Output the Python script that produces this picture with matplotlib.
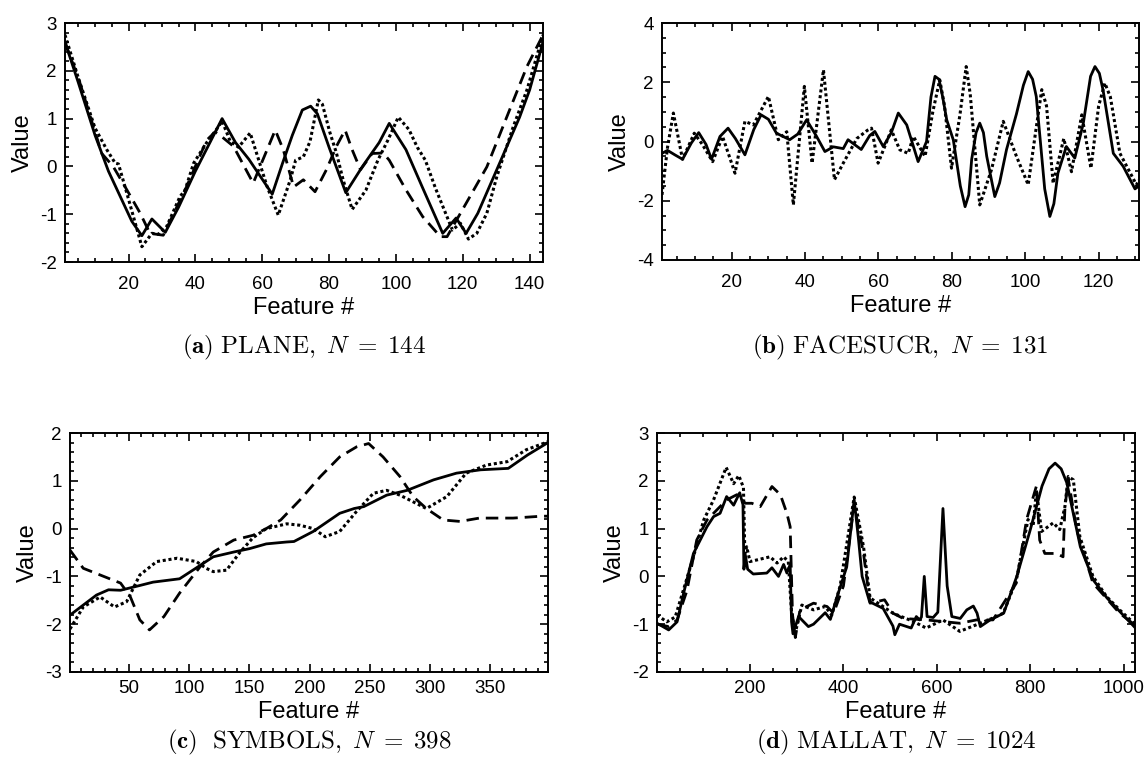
import matplotlib
matplotlib.use("Agg")
import matplotlib.pyplot as plt
from matplotlib.ticker import MultipleLocator

plt.rcParams['font.family'] = ['Liberation Sans', 'DejaVu Sans']
plt.rcParams['mathtext.fontset'] = 'cm'
plt.rcParams['axes.unicode_minus'] = False

# ------------------
# Data
# ------------------
# (a) PLANE
a_solid_x = [1, 5, 10, 14, 18, 21, 24, 27, 31, 35, 40, 44, 48, 52, 56, 63, 66, 69, 72, 74.5, 76.5, 80, 85, 90, 95, 98, 103, 108, 114, 118, 121, 124.5, 130.6, 137, 140, 144]
a_solid_y = [2.6, 1.75, 0.65, -0.1, -0.7, -1.15, -1.45, -1.1, -1.38, -0.85, -0.1, 0.45, 1.0, 0.5, 0.15, -0.58, 0.05, 0.65, 1.18, 1.26, 1.1, 0.4, -0.55, 0.0, 0.5, 0.9, 0.35, -0.45, -1.4, -1.08, -1.4, -0.98, 0.0, 1.03, 1.6, 2.6]

a_dot_x = [1, 5, 10, 13.5, 16, 17, 19.5, 24, 27, 29, 31.4, 35.4, 36.9, 39.5, 43.4, 46.9, 48, 50.4, 52.9, 56.4, 61.4, 64.8, 68.4, 70, 72.3, 74.3, 76.8, 78, 80.2, 82.2, 84.2, 86.9, 91, 94.6, 97.6, 100.7, 103.9, 106.4, 108.8, 111.8, 114.8, 116.9, 119.3, 121.7, 124.2, 127.2, 130.2, 135.1, 139.2, 144]
a_dot_y = [2.75, 1.85, 0.8, 0.35, 0.07, 0.05, -0.56, -1.68, -1.4, -1.42, -1.26, -0.63, -0.5, 0.07, 0.5, 0.83, 0.95, 0.53, 0.4, 0.7, -0.41, -1.02, -0.28, 0.13, 0.2, 0.52, 1.39, 1.3, 0.72, 0.28, -0.28, -0.9, -0.5, 0.13, 0.55, 1.03, 0.77, 0.4, 0.13, -0.45, -0.97, -1.33, -1.19, -1.52, -1.4, -0.98, -0.21, 0.83, 1.6, 2.75]

a_dash_x = [1, 5.5, 9.5, 12, 15.4, 19.5, 23.5, 26.4, 30.4, 37.4, 43.4, 45.9, 47.4, 51.4, 57.3, 63.9, 66.3, 69.4, 72.3, 75.8, 79.2, 82.2, 84.8, 86.9, 89.4, 92.9, 96.2, 98, 103, 108, 113.3, 115.3, 119.3, 123.3, 127.2, 131.2, 135.2, 139.2, 144]
a_dash_y = [2.6, 1.74, 0.83, 0.27, 0.0, -0.49, -0.98, -1.4, -1.44, -0.42, 0.55, 0.72, 0.65, 0.42, -0.35, 0.76, 0.35, -0.43, -0.28, -0.53, -0.07, 0.42, 0.76, 0.35, -0.07, 0.27, 0.28, 0.13, -0.49, -1.05, -1.47, -1.47, -0.98, -0.49, -0.01, 0.69, 1.39, 2.09, 2.75]

# (b) FACESUCR
b_solid_x = [1, 2.5, 4.5, 6.6, 9, 11, 13, 14.5, 16.8, 19, 21, 23.6, 26, 28, 30, 32.2, 35.8, 38, 40.4, 43, 45.4, 47.7, 50.4, 51.7, 55.3, 57.6, 59, 61.3, 63.5, 65.4, 67.7, 70.8, 73.1, 74.3, 75.4, 76.5, 77.5, 78.6, 80.4, 82.3, 83.6, 84.6, 85.4, 86.6, 87.6, 88.6, 89.5, 91.7, 93, 94.9, 97.6, 99.5, 100.8, 102, 103, 105.3, 106.7, 107.8, 108.9, 111.2, 113.5, 115.8, 117.8, 119, 120.2, 121.2, 124, 126.7, 129.9, 131]
b_solid_y = [-0.4, -0.3, -0.45, -0.6, -0.05, 0.3, -0.1, -0.6, 0.17, 0.45, 0.1, -0.45, 0.4, 0.9, 0.75, 0.28, 0.06, 0.25, 0.73, 0.2, -0.34, -0.18, -0.24, 0.06, -0.27, 0.2, 0.34, -0.17, 0.3, 0.96, 0.56, -0.68, 0.0, 1.5, 2.2, 2.1, 1.5, 0.73, 0.05, -1.5, -2.2, -1.8, -0.6, 0.3, 0.62, 0.3, -0.5, -1.86, -1.4, -0.27, 0.93, 1.9, 2.36, 2.1, 1.52, -1.6, -2.53, -2.1, -1.07, -0.17, -0.56, 0.6, 2.2, 2.53, 2.3, 1.74, -0.4, -0.84, -1.6, -1.5]

b_dot_x = [1, 2.5, 4.1, 6.6, 9.8, 12, 14.8, 17.5, 20.9, 23.6, 25.9, 30, 32.7, 35, 36.8, 39.8, 41.9, 45, 48, 50.4, 54.1, 57, 58.1, 59.9, 63.5, 65.8, 68.1, 69.5, 72.7, 74.8, 76.7, 78, 79.9, 82.2, 83.9, 85, 87.6, 90.8, 94, 97.6, 100.8, 102.8, 104.5, 105.8, 107.6, 110.5, 112.6, 115.4, 117.9, 120, 121.7, 123.2, 125.8, 130.3, 131]
b_dot_y = [-1.8, -0.2, 0.96, -0.6, 0.28, -0.1, -0.68, 0.17, -1.07, 0.68, 0.56, 1.52, 0.06, 0.33, -2.14, 1.86, -0.73, 2.42, -1.29, -0.73, 0.1, 0.38, 0.45, -0.73, 0.39, -0.28, -0.4, 0.17, -0.5, 1.0, 2.08, 1.2, -0.9, 0.9, 2.53, 1.6, -2.14, -0.95, 0.68, -0.5, -1.46, 0.3, 1.75, 1.2, -1.41, 0.1, -1.02, 0.9, -0.9, 1.2, 1.97, 1.5, -0.4, -1.46, -1.3]

# (c) SYMBOLS
c_solid_x = [1, 23, 33, 43, 59, 70, 92, 103, 120, 137, 150, 164, 181, 187, 203, 225, 237, 245, 264, 281, 303, 322, 342, 365, 381, 398]
c_solid_y = [-1.81, -1.39, -1.28, -1.29, -1.19, -1.12, -1.05, -0.87, -0.59, -0.49, -0.42, -0.32, -0.28, -0.27, -0.06, 0.32, 0.42, 0.46, 0.7, 0.8, 1.02, 1.16, 1.23, 1.26, 1.54, 1.8]

c_dot_x = [1, 12, 26, 38, 48, 59, 73, 90, 106, 114, 120, 131, 142, 153, 164, 181, 192, 203, 213, 225, 239, 253, 264, 275, 286, 297, 314, 330, 347, 364, 380, 394, 398]
c_dot_y = [-2.1, -1.64, -1.43, -1.64, -1.53, -0.97, -0.69, -0.62, -0.69, -0.83, -0.9, -0.87, -0.5, -0.19, 0.0, 0.1, 0.07, 0.0, -0.17, -0.06, 0.36, 0.74, 0.8, 0.7, 0.56, 0.42, 0.67, 1.16, 1.33, 1.4, 1.65, 1.78, 1.82]

c_dash_x = [1, 12, 29, 43, 51, 59, 67, 79, 92, 109, 120, 137, 153, 164, 176, 192, 209, 225, 239, 249, 261, 275, 286, 297, 311, 325, 341, 369, 393, 398]
c_dash_y = [-0.45, -0.83, -1.0, -1.14, -1.42, -1.91, -2.12, -1.84, -1.35, -0.8, -0.49, -0.24, -0.14, 0.0, 0.18, 0.6, 1.09, 1.5, 1.71, 1.78, 1.5, 1.09, 0.67, 0.42, 0.18, 0.15, 0.22, 0.22, 0.26, 0.26]

# (d) MALLAT
d_solid_x = [1, 26, 44, 58, 79, 108, 122, 136, 150, 165, 178, 185, 187, 190, 195, 207, 236, 247, 261, 272, 279, 286, 289, 292, 304, 325, 336, 361, 372, 386, 407, 423, 432, 440, 456, 485, 506, 510, 520, 545, 556, 563, 567, 573, 579, 592, 602, 613, 622, 632, 650, 664, 678, 686, 693, 714, 743, 771, 800, 825, 840, 853, 866, 878, 907, 935, 964, 992, 1024]
d_solid_y = [-0.98, -1.12, -0.95, -0.35, 0.48, 1.04, 1.25, 1.32, 1.67, 1.49, 1.75, 1.5, 0.15, 0.45, 0.15, 0.05, 0.07, 0.18, 0.0, 0.25, 0.07, 0.25, -0.95, -1.2, -0.84, -1.05, -1.0, -0.76, -0.9, -0.44, 0.2, 1.6, 0.8, 0.0, -0.53, -0.67, -1.04, -1.22, -1.0, -1.08, -0.84, -0.91, -0.85, 0.0, -0.84, -0.86, -0.75, 1.42, -0.2, -0.84, -0.88, -0.7, -0.62, -0.77, -1.05, -0.91, -0.77, 0.0, 0.98, 1.89, 2.25, 2.37, 2.25, 1.96, 0.62, -0.08, -0.45, -0.74, -1.07]

d_dot_x = [1, 22, 40, 58, 79, 101, 122, 149, 165, 176, 186, 189, 193, 200, 243, 258, 272, 282, 289, 297, 311, 336, 361, 375, 393, 423, 443, 457, 506, 549, 577, 613, 649, 685, 720, 742, 770, 795, 806, 813, 824, 849, 863, 874, 881, 892, 906, 934, 963, 991, 1024]
d_dot_y = [-0.81, -0.95, -0.85, -0.27, 0.41, 1.18, 1.6, 2.28, 1.94, 2.11, 1.86, 0.48, 0.62, 0.31, 0.41, 0.28, 0.41, 0.31, -0.76, -1.18, -0.6, -0.7, -0.63, -0.81, -0.2, 1.66, 0.62, -0.45, -0.77, -0.94, -1.08, -0.91, -1.15, -1.01, -0.87, -0.77, -0.08, 1.19, 1.05, 1.8, 0.94, 1.12, 0.98, 1.46, 2.09, 2.02, 0.83, 0.0, -0.42, -0.7, -1.0]

d_dash_x = [1, 26, 44, 65, 86, 108, 129, 150, 172, 183, 190, 204, 222, 247, 265, 279, 286, 291, 297, 307, 336, 365, 379, 400, 423, 443, 457, 488, 506, 528, 577, 649, 685, 720, 770, 792, 813, 820, 831, 856, 870, 874, 881, 899, 934, 963, 991, 1024]
d_dash_y = [-1.0, -1.05, -0.91, -0.3, 0.76, 1.18, 1.39, 1.6, 1.71, 1.6, 1.53, 1.53, 1.46, 1.88, 1.71, 1.32, 1.04, -0.8, -1.28, -0.7, -0.56, -0.63, -0.77, -0.2, 1.5, 0.48, -0.56, -0.49, -0.77, -0.88, -0.91, -0.98, -0.91, -0.91, -0.14, 1.19, 1.89, 0.76, 0.48, 0.48, 0.41, 1.42, 2.05, 0.98, -0.14, -0.46, -0.77, -1.02]

captions = [r"$\mathbf{(a)}\ \mathrm{PLANE,}\ N\;=\;144$",
            r"$\mathbf{(b)}\ \mathrm{FACESUCR,}\ N\;=\;131$",
            r"$\mathbf{(c)}\ \ \mathrm{SYMBOLS,}\ N\;=\;398$",
            r"$\mathbf{(d)}\ \mathrm{MALLAT,}\ N\;=\;1024$"]

# ------------------
# Figure
# ------------------
fig = plt.figure(figsize=(11.48, 7.73), dpi=100)

W, H = 1148.0, 773.0
def add_axes(l, t, r, b):
    return fig.add_axes([l / W, 1 - b / H, (r - l) / W, (b - t) / H])

ax_a = add_axes(65, 23, 543, 262)
ax_b = add_axes(662, 23, 1139, 260)
ax_c = add_axes(70, 433, 548, 672)
ax_d = add_axes(657, 433, 1135, 672)

LW = 2.0
SOLID = dict(color='black', lw=LW, ls='-')
DOT = dict(color='black', lw=2.2, dashes=(1.0, 0.9))
DASH = dict(color='black', lw=LW, dashes=(4.5, 2.5))

ax_a.plot(a_solid_x, a_solid_y, **SOLID)
ax_a.plot(a_dot_x, a_dot_y, **DOT)
ax_a.plot(a_dash_x, a_dash_y, **DASH)

ax_b.plot(b_solid_x, b_solid_y, **SOLID)
ax_b.plot(b_dot_x, b_dot_y, **DOT)

ax_c.plot(c_solid_x, c_solid_y, **SOLID)
ax_c.plot(c_dot_x, c_dot_y, **DOT)
ax_c.plot(c_dash_x, c_dash_y, **DASH)

ax_d.plot(d_solid_x, d_solid_y, **SOLID)
ax_d.plot(d_dot_x, d_dot_y, **DOT)
ax_d.plot(d_dash_x, d_dash_y, **DASH)

# ax, xlim, ylim, x major, x minor, y major, y minor, x tick pad
settings = [
    (ax_a, (1, 144), (-2, 3), 20, 5, 1, 0.2, 10),
    (ax_b, (1, 131), (-4, 4), 20, 5, 2, 0.5, 10),
    (ax_c, (1, 398), (-3, 2), 50, 10, 1, 0.2, 6),
    (ax_d, (1, 1024), (-2, 3), 200, 50, 1, 0.2, 6),
]
for ax, xl, yl, xmaj, xmin, ymaj, ymin, xpad in settings:
    ax.set_xlim(*xl)
    ax.set_ylim(*yl)
    ax.xaxis.set_major_locator(MultipleLocator(xmaj))
    ax.xaxis.set_minor_locator(MultipleLocator(xmin))
    ax.yaxis.set_major_locator(MultipleLocator(ymaj))
    ax.yaxis.set_minor_locator(MultipleLocator(ymin))
    ax.tick_params(which='both', direction='in', top=True, right=True,
                   labelsize=13.5, width=1.2, pad=6)
    ax.tick_params(axis='x', which='both', pad=xpad)
    ax.tick_params(which='major', length=6)
    ax.tick_params(which='minor', length=3)
    for s in ax.spines.values():
        s.set_linewidth(1.4)
    ax.set_xlabel("Feature #", fontsize=17, labelpad=3)
    ax.set_ylabel("Value", fontsize=17, labelpad=4)

for ax, cap, yc in zip([ax_a, ax_b, ax_c, ax_d], captions, [347, 347, 742, 742]):
    pos = ax.get_position()
    fig.text(pos.x0 + pos.width / 2, 1 - yc / H, cap, ha='center', va='center', fontsize=18)

fig.savefig("out.png", dpi=100)
